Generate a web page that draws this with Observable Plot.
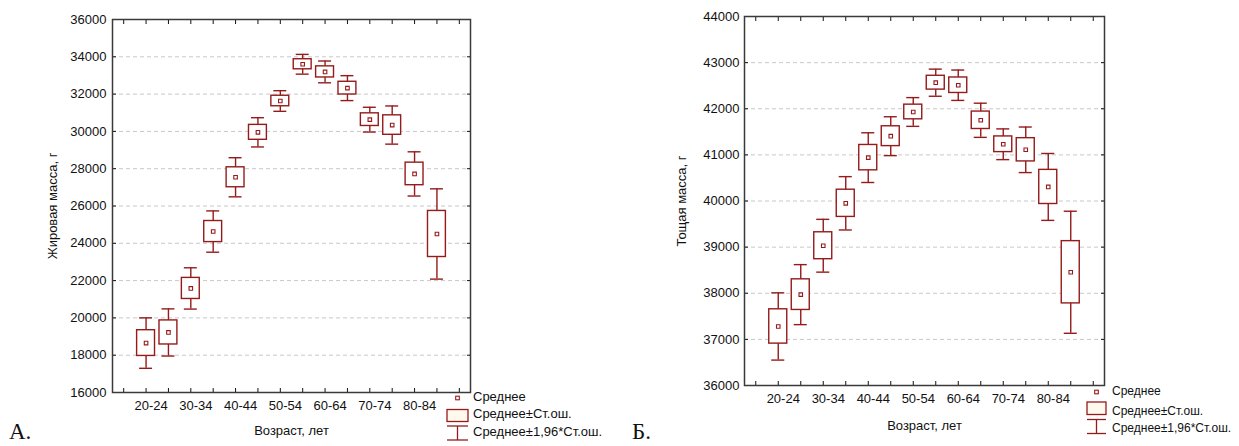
<!DOCTYPE html>
<html><head><meta charset="utf-8">
<script src="https://cdn.jsdelivr.net/npm/d3@7"></script>
<script src="https://cdn.jsdelivr.net/npm/@observablehq/plot@0.6"></script>
<style>
html,body{margin:0;padding:0;background:#fff;overflow:hidden;}
#root{position:relative;width:1239px;height:446px;overflow:hidden;font-family:"Liberation Sans",Arial,sans-serif;}
.panel{position:absolute;top:0;}
#overlay{position:absolute;left:0;top:0;}
</style></head><body><div id="root"></div>
<script>
// Age groups (categories) and tick labels
const ageGroups = ["20-24","25-29","30-34","35-39","40-44","45-49","50-54","55-59","60-64","65-69","70-74","75-79","80-84","85-89"];
const tickLabels = ["20-24","30-34","40-44","50-54","60-64","70-74","80-84"];
// Panel A: fat mass (g) — mean and standard error
const fatMean = [18650,19220,21580,24630,27540,29950,31630,33600,33190,32320,30630,30340,27720,24500];
const fatSE   = [690,645,565,565,535,400,282,270,298,341,339,522,605,1235];
// Panel B: lean mass (g) — mean and standard error
const leanMean = [37280,37970,39030,39950,40940,41405,41930,42565,42510,41750,41230,41110,40305,38455];
const leanSE   = [372,332,292,295,275,215,159,150,168,189,170,252,370,675];
const legendLabels = ["Среднее","Среднее±Ст.ош.","Среднее±1,96*Ст.ош."];

const RED = "#951b1b";
const root = document.getElementById("root");

function panel({means, ses, yDomain, yStep, yLabel, W, m, yLabelOffset, xLabelOffset, yPad, xPad}) {
  const data = ageGroups.map((g,i)=>({i:i+1, g, mean:means[i], se:ses[i]}));
  const yTicks = d3.range(yDomain[0], yDomain[1]+1, yStep);
  const inner = yTicks.slice(1,-1);
  const xAll = d3.range(0,16);
  const xLab = tickLabels.map(l => ageGroups.indexOf(l)+1);
  return Plot.plot({
    width: W, height: 446,
    marginLeft: m.l, marginRight: m.r, marginTop: m.t, marginBottom: m.b,
    style: {fontFamily: "'Liberation Sans', Arial, sans-serif", fontSize: "13px", color: "#111", background: "transparent", overflow: "visible"},
    x: {domain: [-0.5, 15.5]},
    y: {domain: yDomain},
    marks: [
      Plot.ruleY(inner, {stroke: "#c8c8c8", strokeDasharray: "4,3", strokeWidth: 1}),
      Plot.axisY(yTicks, {anchor: "left", tickSize: -4, tickPadding: yPad, tickFormat: d => String(d),
        label: yLabel, labelAnchor: "center", labelArrow: "none", labelOffset: yLabelOffset}),
      Plot.axisY(yTicks, {anchor: "right", tickSize: -4, tickFormat: () => "", label: null}),
      Plot.axisX(xAll, {anchor: "bottom", tickSize: -4, tickFormat: () => "", label: null}),
      Plot.axisX(xAll, {anchor: "top", tickSize: -4, tickFormat: () => "", label: null}),
      Plot.axisX(xLab, {anchor: "bottom", tickSize: 0, tickPadding: xPad, dx: 5, tickFormat: i => ageGroups[i-1],
        label: "Возраст, лет", labelAnchor: "center", labelArrow: "none", labelOffset: xLabelOffset}),
      Plot.ruleX(data, {x: "i", y1: d => d.mean - 1.96*d.se, y2: d => d.mean + 1.96*d.se, stroke: RED, strokeWidth: 1.4}),
      Plot.ruleY(data, {y: d => d.mean + 1.96*d.se, x1: d => d.i - 0.29, x2: d => d.i + 0.29, stroke: RED, strokeWidth: 1.4}),
      Plot.ruleY(data, {y: d => d.mean - 1.96*d.se, x1: d => d.i - 0.29, x2: d => d.i + 0.29, stroke: RED, strokeWidth: 1.4}),
      Plot.rect(data, {x1: d => d.i - 0.4, x2: d => d.i + 0.4, y1: d => d.mean - d.se, y2: d => d.mean + d.se, fill: "white", stroke: RED, strokeWidth: 1.4}),
      Plot.dot(data, {x: "i", y: "mean", symbol: "square", r: 2, stroke: RED, fill: "white", strokeWidth: 1.1}),
      Plot.frame({stroke: "#3a3a3a", strokeWidth: 1.5})
    ]
  });
}

const pA = panel({means: fatMean, ses: fatSE, yDomain: [16000, 36000], yStep: 2000, yLabel: "Жировая масса, г",
  W: 620, m: {l: 112, r: 150, t: 19, b: 54}, yLabelOffset: 65, xLabelOffset: 42, yPad: 10, xPad: 8});
pA.classList.add("panel"); pA.style.left = "0px";
root.appendChild(pA);

const pB = panel({means: leanMean, ses: leanSE, yDomain: [36000, 44000], yStep: 1000, yLabel: "Тощая масса, г",
  W: 619, m: {l: 124, r: 135, t: 16, b: 61}, yLabelOffset: 68, xLabelOffset: 44, yPad: 9, xPad: 8.5});
pB.classList.add("panel"); pB.style.left = "620px";
root.appendChild(pB);

// Overlay: legends and panel letters
const svg = d3.select(root).append("svg").attr("id", "overlay").attr("width", 1239).attr("height", 446);
function legend(x0, x1, yDot, yBox0, yBox1, yW0, yW1, tx, ty, fs) {
  const g = svg.append("g").attr("fill", "none").attr("stroke", RED).attr("stroke-width", 1.3);
  const cx = (x0 + x1) / 2;
  g.append("rect").attr("x", cx - 1.8).attr("y", yDot - 1.8).attr("width", 3.6).attr("height", 3.6).attr("fill", "white").attr("stroke-width", 1.1);
  g.append("rect").attr("x", x0).attr("y", yBox0).attr("width", x1 - x0).attr("height", yBox1 - yBox0).attr("fill", "#fff8ec");
  g.append("line").attr("x1", x0).attr("x2", x1).attr("y1", yW0).attr("y2", yW0);
  g.append("line").attr("x1", x0).attr("x2", x1).attr("y1", yW1).attr("y2", yW1);
  g.append("line").attr("x1", cx).attr("x2", cx).attr("y1", yW0).attr("y2", yW1);
  legendLabels.forEach((t, k) => {
    svg.append("text").attr("x", tx).attr("y", ty[k]).attr("dominant-baseline", "middle")
      .attr("font-family", "'Liberation Sans', Arial, sans-serif").attr("font-size", fs).attr("fill", "#111").text(t);
  });
}
legend(447, 468, 398, 409.5, 421.5, 426, 440, 473, [398, 415, 432.5], 13);
legend(1087, 1106, 392, 402, 414.5, 419.5, 433.5, 1112, [392, 411.5, 429], 12);
[["А.", 9], ["Б.", 632]].forEach(([t, x]) => {
  svg.append("text").attr("x", x).attr("y", 439).attr("font-family", "'Liberation Serif', 'Times New Roman', serif")
    .attr("font-size", 23).attr("fill", "#111").text(t);
});
</script></body></html>
